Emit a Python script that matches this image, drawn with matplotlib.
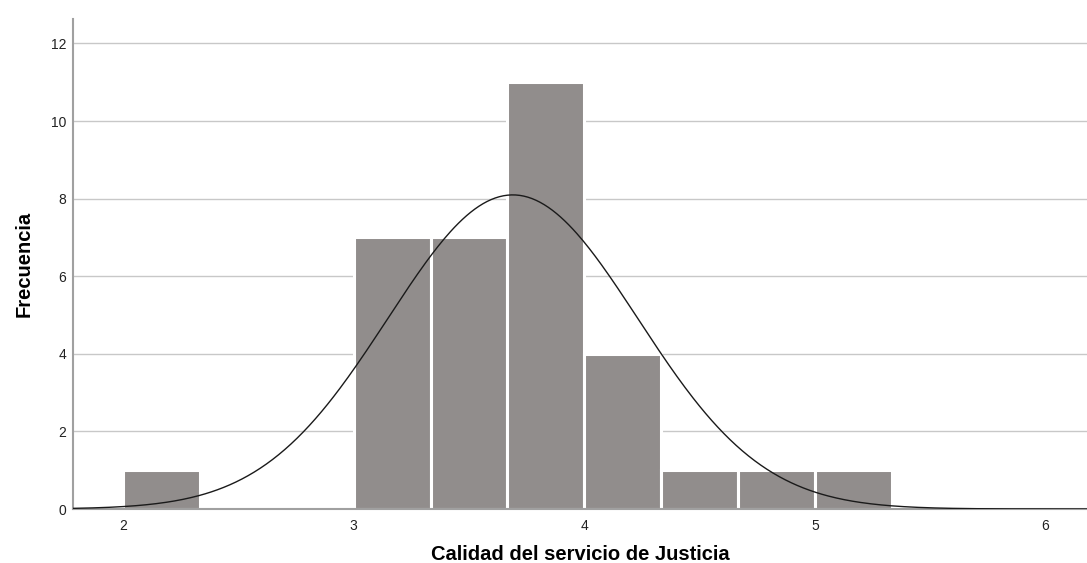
import numpy as np
import matplotlib.pyplot as plt

# histogram bins (width 1/3) and frequency per bin
bin_edges = [2.0, 2.3333, 2.6667, 3.0, 3.3333, 3.6667, 4.0, 4.3333, 4.6667, 5.0, 5.3333]
counts = [1, 0, 0, 7, 7, 11, 4, 1, 1, 1]

# normal curve parameters
n_obs = 33
media = 3.69
desv = 0.542

x_ticks = [2, 3, 4, 5, 6]
y_ticks = [0, 2, 4, 6, 8, 10, 12]

plt.rcParams['font.family'] = ['Liberation Sans', 'DejaVu Sans']

fig = plt.figure(figsize=(10.87, 5.63), dpi=100)
ax = fig.add_axes([0.0672, 0.0959, 0.9328, 0.8704])

lefts = bin_edges[:-1]
widths = np.diff(bin_edges)
ax.bar(lefts, counts, width=widths, align='edge', color='#918d8c',
       edgecolor='white', linewidth=2.2, zorder=2)

xs = np.linspace(1.78, 6.2, 500)
bw = widths[0]
ys = n_obs * bw / (desv * np.sqrt(2 * np.pi)) * np.exp(-0.5 * ((xs - media) / desv) ** 2)
ax.plot(xs, ys, color='#1a1a1a', linewidth=1.0, zorder=3)

ax.set_xlim(1.783, 6.18)
ax.set_ylim(0, 12.63)
ax.set_xticks(x_ticks)
ax.set_yticks(y_ticks)
ax.tick_params(length=0, labelsize=10, colors='#222222')
ax.tick_params(axis='x', pad=7)
ax.tick_params(axis='y', pad=5)

ax.grid(axis='y', color='#c8c8c8', linewidth=1.0, zorder=0)
ax.set_axisbelow(True)

for s in ['top', 'right']:
    ax.spines[s].set_visible(False)
for s in ['left', 'bottom']:
    ax.spines[s].set_color('#a0a0a0')
    ax.spines[s].set_linewidth(1.5)

ax.set_xlabel('Calidad del servicio de Justicia', fontsize=14.5, fontweight='bold', labelpad=9)
ax.set_ylabel('Frecuencia', fontsize=14.5, fontweight='bold', labelpad=12)

fig.savefig('out.png', dpi=100)
